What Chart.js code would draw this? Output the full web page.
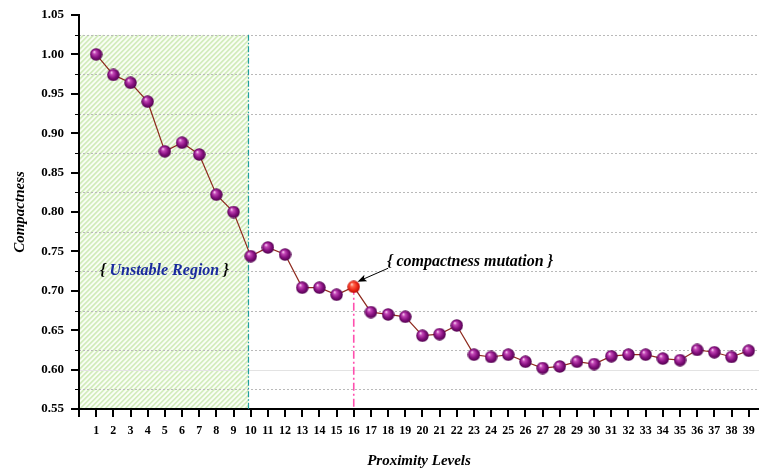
<!DOCTYPE html>
<html>
<head>
<meta charset="utf-8">
<script src="https://cdn.jsdelivr.net/npm/chart.js@4/dist/chart.umd.min.js"></script>
<style>
  html, body { margin: 0; padding: 0; background: #ffffff; }
  canvas { display: block; }
</style>
</head>
<body>
<canvas id="chart" width="759" height="471"></canvas>
<script>
// Proximity levels on the x axis
const levels = [1, 2, 3, 4, 5, 6, 7, 8, 9, 10, 11, 12, 13, 14, 15, 16, 17, 18, 19, 20,
                21, 22, 23, 24, 25, 26, 27, 28, 29, 30, 31, 32, 33, 34, 35, 36, 37, 38, 39];

// Compactness at each proximity level
const compactness = [1.000, 0.974, 0.964, 0.940, 0.877, 0.888, 0.873, 0.822, 0.800, 0.744,
                     0.755, 0.746, 0.704, 0.704, 0.695, 0.705, 0.673, 0.670, 0.667, 0.643,
                     0.645, 0.656, 0.619, 0.616, 0.619, 0.610, 0.602, 0.604, 0.610, 0.607,
                     0.617, 0.619, 0.619, 0.614, 0.612, 0.625, 0.622, 0.616, 0.624];

// Y axis range and label step
const yMin = 0.55;
const yMax = 1.05;
const yStep = 0.05;

// Highlighted regions and annotations
const unstableEnd = 9.87;      // right edge of the unstable region (level units)
const unstableTop = 1.025;     // top edge of the unstable region
const mutationLevel = 16;      // level where compactness jumps
const SERIF = "'Liberation Serif', 'Times New Roman', serif";

// Shaded sphere markers
function makeBall(stops, size) {
  const c = document.createElement('canvas');
  c.width = size; c.height = size;
  const g = c.getContext('2d');
  const r = size / 2;
  const grad = g.createRadialGradient(r * 0.68, r * 0.6, 0.3, r, r, r);
  stops.forEach(s => grad.addColorStop(s[0], s[1]));
  g.fillStyle = grad;
  g.beginPath(); g.arc(r, r, r - 0.3, 0, Math.PI * 2); g.fill();
  return c;
}
const purpleBall = makeBall([[0, '#f7d2f2'], [0.22, '#c548b8'], [0.62, '#86107f'], [1, '#4c0049']], 13);
const redBall = makeBall([[0, '#ffe0d6'], [0.22, '#ff6a50'], [0.62, '#ee2a18'], [1, '#b40a06']], 13);

const mutationIndex = levels.indexOf(mutationLevel);
const points = levels.map((lv, i) => ({ x: lv, y: compactness[i] }));

const decor = {
  id: 'decor',
  beforeDraw(chart) {
    const { ctx, chartArea: a, scales: { x, y } } = chart;
    // hatched unstable region
    const x0 = x.getPixelForValue(0), x1 = x.getPixelForValue(unstableEnd);
    const yt = y.getPixelForValue(unstableTop), yb = y.getPixelForValue(yMin);
    ctx.save();
    ctx.beginPath(); ctx.rect(x0, yt, x1 - x0, yb - yt); ctx.clip();
    ctx.fillStyle = '#fafef6';
    ctx.fillRect(x0, yt, x1 - x0, yb - yt);
    ctx.strokeStyle = '#d2ecbc';
    ctx.lineWidth = 1.7;
    const h = yb - yt;
    for (let k = -h; k < x1 - x0 + 5; k += 5) {
      ctx.beginPath();
      ctx.moveTo(x0 + k, yb);
      ctx.lineTo(x0 + k + h, yt);
      ctx.stroke();
    }
    ctx.restore();

    // dotted grid between labelled values, solid faint line at 0.60
    ctx.save();
    const nMinor = Math.round((yMax - yMin) / yStep);
    ctx.strokeStyle = '#b9b9b9';
    ctx.lineWidth = 1;
    ctx.setLineDash([2, 2]);
    for (let i = 0; i < nMinor; i++) {
      const py = Math.round(y.getPixelForValue(yMin + (i + 0.5) * yStep)) + 0.5;
      ctx.beginPath(); ctx.moveTo(a.left, py); ctx.lineTo(a.right, py); ctx.stroke();
    }
    ctx.setLineDash([]);
    ctx.strokeStyle = '#e3e3e3';
    const p60 = Math.round(y.getPixelForValue(0.60)) + 0.5;
    ctx.beginPath(); ctx.moveTo(a.left, p60); ctx.lineTo(a.right, p60); ctx.stroke();
    // minor ticks on the y axis
    ctx.strokeStyle = '#000';
    for (let i = 0; i < nMinor; i++) {
      const py = Math.round(y.getPixelForValue(yMin + (i + 0.5) * yStep)) + 0.5;
      ctx.beginPath(); ctx.moveTo(a.left - 4, py); ctx.lineTo(a.left, py); ctx.stroke();
    }
    ctx.restore();
  },
  beforeDatasetsDraw(chart) {
    const { ctx, scales: { x, y } } = chart;
    ctx.save();
    // boundary of the unstable region
    const bx = x.getPixelForValue(unstableEnd);
    ctx.strokeStyle = '#1f9e9e';
    ctx.lineWidth = 1.2;
    ctx.setLineDash([6, 2, 1.5, 2]);
    ctx.beginPath();
    ctx.moveTo(bx, y.getPixelForValue(unstableTop));
    ctx.lineTo(bx, y.getPixelForValue(yMin));
    ctx.stroke();
    // drop line under the mutation point
    const mx = x.getPixelForValue(mutationLevel);
    ctx.strokeStyle = '#ff4fae';
    ctx.lineWidth = 1.6;
    ctx.setLineDash([8, 3, 2, 3]);
    ctx.beginPath();
    ctx.moveTo(mx, y.getPixelForValue(compactness[mutationIndex]));
    ctx.lineTo(mx, y.getPixelForValue(yMin));
    ctx.stroke();
    ctx.restore();
  },
  afterDatasetsDraw(chart) {
    const { ctx, scales: { x, y } } = chart;
    ctx.save();
    ctx.font = "italic bold 16px " + SERIF;
    ctx.textBaseline = 'middle';
    // unstable region label
    const parts = [['{ ', '#000'], ['Unstable Region', '#1a2a9e'], [' }', '#000']];
    const total = parts.reduce((s, p) => s + ctx.measureText(p[0]).width, 0);
    let tx = x.getPixelForValue(4.97) - total / 2;
    const ty = y.getPixelForValue(0.725);
    parts.forEach(p => {
      ctx.fillStyle = p[1];
      ctx.fillText(p[0], tx, ty);
      tx += ctx.measureText(p[0]).width;
    });
    // mutation label and arrow
    ctx.fillStyle = '#000';
    ctx.textAlign = 'left';
    ctx.fillText('{ compactness mutation }', x.getPixelForValue(17.93), y.getPixelForValue(0.7366));
    const ax0 = x.getPixelForValue(18.0), ay0 = y.getPixelForValue(0.7286);
    const ax1 = x.getPixelForValue(16.22), ay1 = y.getPixelForValue(0.7116);
    const ang = Math.atan2(ay1 - ay0, ax1 - ax0);
    ctx.strokeStyle = '#000';
    ctx.lineWidth = 1;
    ctx.beginPath(); ctx.moveTo(ax0, ay0); ctx.lineTo(ax1 - 6 * Math.cos(ang), ay1 - 6 * Math.sin(ang)); ctx.stroke();
    ctx.beginPath();
    ctx.moveTo(ax1, ay1);
    ctx.lineTo(ax1 - 9 * Math.cos(ang) + 3.5 * Math.sin(ang), ay1 - 9 * Math.sin(ang) - 3.5 * Math.cos(ang));
    ctx.lineTo(ax1 - 7 * Math.cos(ang), ay1 - 7 * Math.sin(ang));
    ctx.lineTo(ax1 - 9 * Math.cos(ang) - 3.5 * Math.sin(ang), ay1 - 9 * Math.sin(ang) + 3.5 * Math.cos(ang));
    ctx.closePath(); ctx.fill();
    ctx.restore();
  }
};

new Chart(document.getElementById('chart'), {
  type: 'line',
  data: {
    datasets: [{
      data: points,
      borderColor: '#8e2a1e',
      borderWidth: 1.2,
      pointStyle: ctx => ctx.dataIndex === mutationIndex ? redBall : purpleBall,
      pointRadius: 6.5,
      tension: 0
    }]
  },
  plugins: [decor],
  options: {
    responsive: false,
    animation: false,
    devicePixelRatio: 1,
    events: [],
    layout: { autoPadding: false, padding: { top: 15, right: 0, left: 0, bottom: 0 } },
    plugins: { legend: { display: false }, tooltip: { enabled: false } },
    scales: {
      x: {
        type: 'linear',
        min: 0,
        max: 39.6,
        afterFit: s => { s.height = 62; s.paddingLeft = 0; s.paddingRight = 0; },
        border: { display: true, color: '#000', width: 2 },
        grid: { drawOnChartArea: false, drawTicks: true, tickLength: 8, color: '#000', lineWidth: 2, tickWidth: 2 },
        ticks: {
          stepSize: 1,
          includeBounds: false,
          autoSkip: false,
          maxRotation: 0,
          padding: 7,
          color: '#000',
          font: { family: SERIF, size: 12, weight: 'bold' },
          callback: v => (levels.includes(v) ? String(v) : '')
        },
        title: {
          display: true,
          text: 'Proximity Levels',
          color: '#000',
          font: { family: SERIF, size: 15, weight: 'bold', style: 'italic' },
          padding: { top: 0, bottom: 1 }
        }
      },
      y: {
        type: 'linear',
        min: yMin,
        max: yMax,
        afterFit: s => { s.width = 79; s.paddingTop = 0; s.paddingBottom = 0; },
        border: { display: true, color: '#000', width: 2 },
        grid: { drawOnChartArea: false, drawTicks: true, tickLength: 8, color: '#000', lineWidth: 2, tickWidth: 2 },
        ticks: {
          stepSize: yStep,
          padding: 7,
          color: '#000',
          font: { family: SERIF, size: 13, weight: 'bold' },
          callback: v => Number(v).toFixed(2)
        },
        title: {
          display: true,
          text: 'Compactness',
          color: '#000',
          font: { family: SERIF, size: 15, weight: 'bold', style: 'italic' },
          padding: { top: 11, bottom: 0 }
        }
      }
    }
  }
});
</script>
</body>
</html>
